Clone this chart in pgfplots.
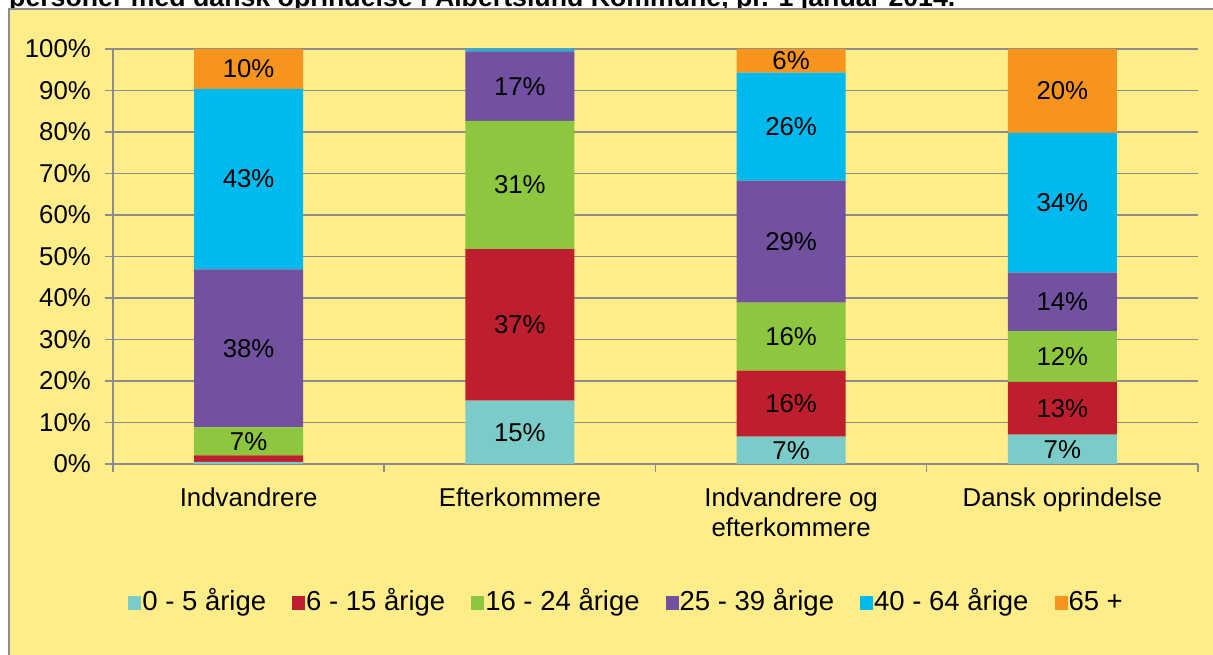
\documentclass[border=0pt]{standalone}
\usepackage{pgfplots}
\pgfplotsset{compat=1.18}
\usepackage{fontspec}
\setmainfont{Liberation Sans}
\definecolor{cA}{RGB}{123,204,200}
\definecolor{cB}{RGB}{190,30,45}
\definecolor{cC}{RGB}{141,198,63}
\definecolor{cD}{RGB}{114,81,160}
\definecolor{cE}{RGB}{0,185,238}
\definecolor{cF}{RGB}{247,148,30}
\definecolor{bgyellow}{RGB}{255,237,138}
\definecolor{axisgray}{RGB}{140,140,140}
\begin{document}
\fontsize{25.8pt}{30pt}\selectfont
\begin{tikzpicture}[x=1pt,y=1pt]
\useasboundingbox (0,0) rectangle (1213,655);
\clip (0,0) rectangle (1213,655);
\fill[white] (0,0) rectangle (1213,655);
\node[anchor=base west, inner sep=0pt, font=\bfseries\fontsize{26.7pt}{30pt}\selectfont] at (9,648) {personer med dansk oprindelse i Albertslund Kommune, pr. 1 januar 2014.};
\fill[bgyellow] (9,-5) rectangle (1220,646);
\draw[line width=2pt, axisgray] (9,-5) -- (9,646) -- (1220,646);
\begin{axis}[at={(113pt,191pt)}, anchor=south west, scale only axis,
  width=1085pt, height=415pt,
  ybar stacked, bar width=109pt,
  xmin=0, xmax=4, ymin=0, ymax=100,
  axis x line*=bottom, axis y line*=left,
  axis line style={-, draw=axisgray, line width=1.5pt},
  xtick={0,1,2,3,4}, xticklabels={},
  extra x ticks={0.5,1.5,2.5,3.5},
  extra x tick labels={Indvandrere, Efterkommere, {Indvandrere og\\efterkommere}, Dansk oprindelse},
  extra x tick style={major tick length=0pt, grid=none},
  x tick label style={align=center, anchor=north, inner sep=0pt, yshift=-24pt},
  ytick={0,10,...,100},
  yticklabel={\pgfmathprintnumber{\tick}\%},
  /pgf/number format/assume math mode=true,
  y tick label style={anchor=east, inner sep=0pt, xshift=-14pt},
  ymajorgrids, grid style={draw=axisgray, line width=1.5pt},
  tick style={draw=axisgray, line width=1.5pt},
  tick align=outside, major tick length=8pt,
  legend columns=6,
  legend style={draw=none, fill=none, at={(0.4729,-0.335)}, anchor=center,
    font=\fontsize{27.5pt}{32pt}\selectfont,
    nodes={inner sep=1pt},
    /tikz/every even column/.append style={column sep=25pt,
      nodes={text height=20pt, text depth=6pt}}},
  legend image code/.code={\fill[#1] (0pt,-7pt) rectangle (13pt,7pt);},
]
\addplot[fill=cA, draw=none] coordinates {(0.5,0.5) (1.5,15.3) (2.5,6.6) (3.5,7.1)};
\addplot[fill=cB, draw=none] coordinates {(0.5,1.6) (1.5,36.5) (2.5,15.9) (3.5,12.7)};
\addplot[fill=cC, draw=none] coordinates {(0.5,6.7) (1.5,30.9) (2.5,16.4) (3.5,12.2)};
\addplot[fill=cD, draw=none] coordinates {(0.5,38.1) (1.5,16.7) (2.5,29.4) (3.5,14.1)};
\addplot[fill=cE, draw=none] coordinates {(0.5,43.5) (1.5,0.6) (2.5,26.0) (3.5,33.7)};
\addplot[fill=cF, draw=none] coordinates {(0.5,9.6) (1.5,0.0) (2.5,5.7) (3.5,20.2)};
\legend{0 - 5 årige, 6 - 15 årige, 16 - 24 årige, 25 - 39 årige, 40 - 64 årige, 65 +}
\end{axis}
\begin{axis}[at={(113pt,191pt)}, anchor=south west, scale only axis,
  width=1085pt, height=415pt, hide axis, clip=false,
  xmin=0, xmax=4, ymin=0, ymax=100]
\addplot[draw=none, mark=none, nodes near coords={\pgfplotspointmeta\%},
  point meta=explicit symbolic, nodes near coords align={center}]
  coordinates {
  (0.5,5.45) [7] (0.5,27.85) [38] (0.5,68.65) [43] (0.5,95.2) [10]
  (1.5,7.65) [15] (1.5,33.55) [37] (1.5,67.25) [31] (1.5,91.05) [17]
  (2.5,3.3) [7] (2.5,14.55) [16] (2.5,30.7) [16] (2.5,53.6) [29] (2.5,81.3) [26] (2.5,97.15) [6]
  (3.5,3.55) [7] (3.5,13.45) [13] (3.5,25.9) [12] (3.5,39.05) [14] (3.5,62.95) [34] (3.5,89.9) [20]
  };
\end{axis}
\end{tikzpicture}
\end{document}
